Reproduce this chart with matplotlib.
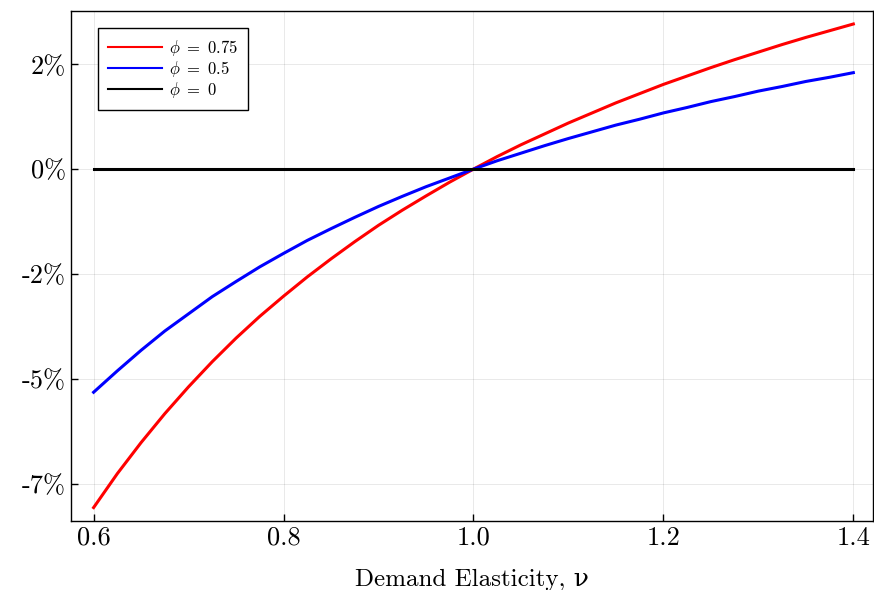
import matplotlib
matplotlib.use("Agg")
import matplotlib.pyplot as plt

plt.rcParams['font.family'] = ['cmr10', 'DejaVu Serif']
plt.rcParams['mathtext.fontset'] = 'cm'
plt.rcParams['axes.formatter.use_mathtext'] = True

nu = [0.6, 0.625, 0.65, 0.675, 0.7, 0.725, 0.75, 0.775, 0.8, 0.825, 0.85, 0.875,
      0.9, 0.925, 0.95, 0.975, 1.0, 1.025, 1.05, 1.075, 1.1, 1.125, 1.15, 1.175,
      1.2, 1.225, 1.25, 1.275, 1.3, 1.325, 1.35, 1.375, 1.4]
phi_075 = [-0.0807, -0.0726, -0.0652, -0.0583, -0.0519, -0.0459, -0.0403, -0.0351,
           -0.0303, -0.0257, -0.0214, -0.0173, -0.0134, -0.0098, -0.0064, -0.0031,
           0.0, 0.0030, 0.0058, 0.0084, 0.0110, 0.0134, 0.0158, 0.0180,
           0.0202, 0.0222, 0.0242, 0.0261, 0.0279, 0.0297, 0.0314, 0.0330, 0.0346]
phi_05 = [-0.0532, -0.0481, -0.0432, -0.0386, -0.0345, -0.0304, -0.0268, -0.0233,
          -0.0201, -0.0170, -0.0142, -0.0115, -0.0089, -0.0065, -0.0042, -0.0021,
          0.0, 0.0020, 0.0038, 0.0056, 0.0073, 0.0089, 0.0105, 0.0119,
          0.0134, 0.0147, 0.0161, 0.0173, 0.0186, 0.0197, 0.0209, 0.0219, 0.0230]
phi_0 = [0.0] * len(nu)

ytick_vals = [0.025, 0.0, -0.025, -0.05, -0.075]
ytick_labels = ["2%", "0%", "-2%", "-5%", "-7%"]
xtick_vals = [0.6, 0.8, 1.0, 1.2, 1.4]
xtick_labels = ["0.6", "0.8", "1.0", "1.2", "1.4"]

W, H = 874, 590
fig = plt.figure(figsize=(W / 100, H / 100), dpi=100)
left, right, top, bottom = 71, 873, 11, 521
ax = fig.add_axes([left / W, 1 - bottom / H, (right - left) / W, (bottom - top) / H])

ax.plot(nu, phi_075, color='#ff0000', lw=2.2, label=r'$\phi\ =\ 0.75$')
ax.plot(nu, phi_05, color='#0000ff', lw=2.2, label=r'$\phi\ =\ 0.5$')
ax.plot(nu, phi_0, color='black', lw=2.2, label=r'$\phi\ =\ 0$')

ax.set_xlim(0.5762, 1.4207)
ax.set_ylim(-0.0839, 0.0377)
ax.set_xticks(xtick_vals)
ax.set_xticklabels(xtick_labels)
ax.set_yticks(ytick_vals)
ax.set_yticklabels(ytick_labels)
ax.tick_params(direction='in', length=5, width=1, labelsize=19, top=False, right=False)
ax.grid(True, color='black', alpha=0.1, lw=0.6)
for s in ax.spines.values():
    s.set_linewidth(1.0)
ax.set_xlabel('Demand Elasticity, ν', fontsize=18, labelpad=14)

axw, axh = right - left, bottom - top
leg = ax.legend(loc='upper left', bbox_to_anchor=(26.5 / axw, 1 - 17 / axh),
                borderaxespad=0, fontsize=12, frameon=True, fancybox=False,
                edgecolor='black', framealpha=1, handlelength=3.25,
                labelspacing=0.05, handletextpad=0.45, borderpad=0.6)
leg.get_frame().set_linewidth(1.0)
for l in leg.get_lines():
    l.set_linewidth(1.5)

fig.savefig('out.png', dpi=100)
